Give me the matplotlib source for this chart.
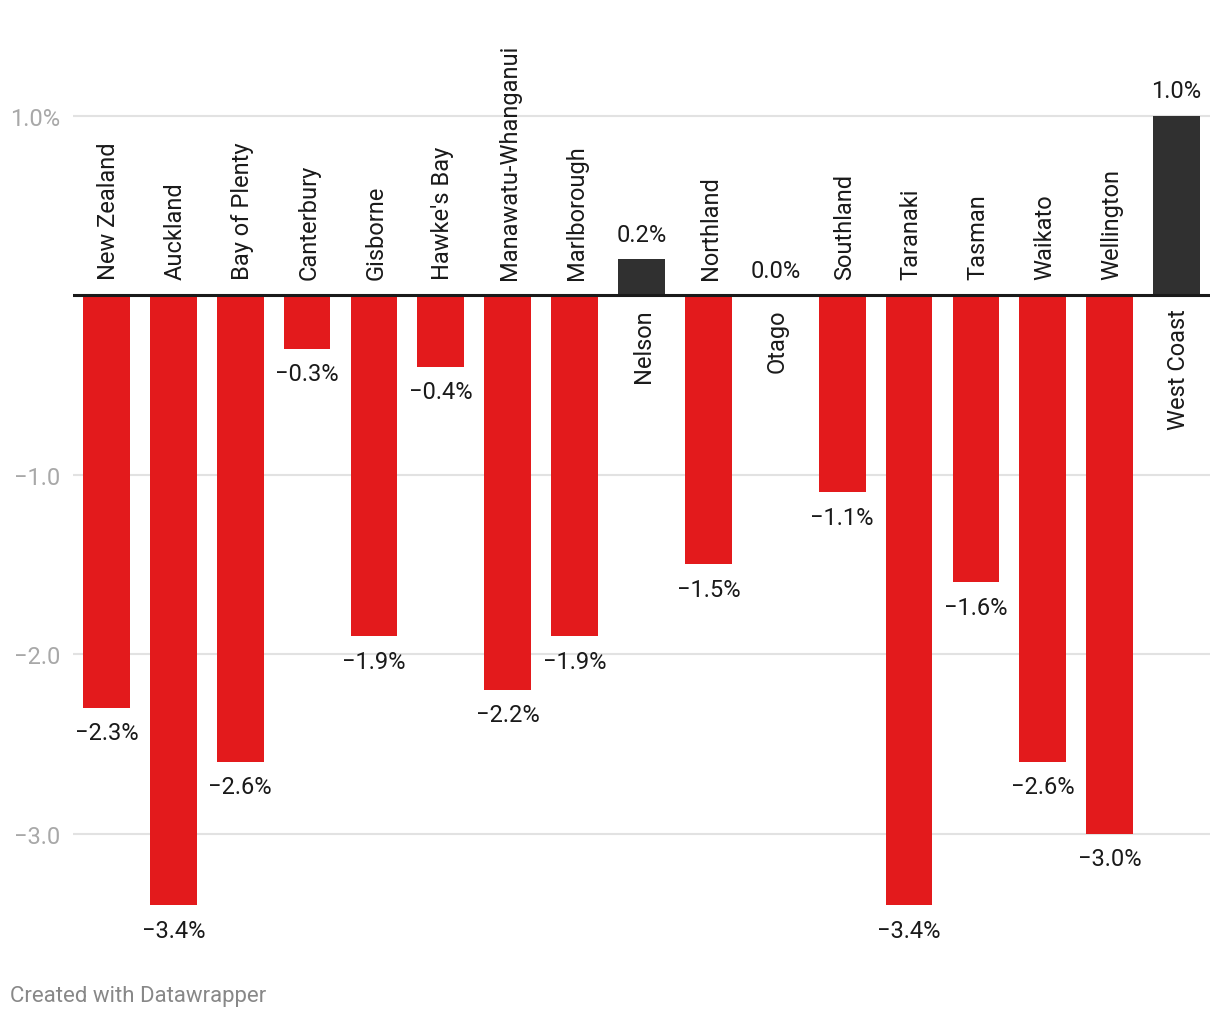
import matplotlib
matplotlib.use("Agg")
import matplotlib.pyplot as plt

plt.rcParams["font.family"] = ["Roboto", "DejaVu Sans"]

# data
regions = ["New Zealand", "Auckland", "Bay of Plenty", "Canterbury", "Gisborne",
           "Hawke's Bay", "Manawatu-Whanganui", "Marlborough", "Nelson",
           "Northland", "Otago", "Southland", "Taranaki", "Tasman", "Waikato",
           "Wellington", "West Coast"]
change = [-2.3, -3.4, -2.6, -0.3, -1.9, -0.4, -2.2, -1.9, 0.2,
          -1.5, 0.0, -1.1, -3.4, -1.6, -2.6, -3.0, 1.0]
yticks = [1.0, -1.0, -2.0, -3.0]
ytick_labels = ["1.0%", "\u22121.0", "\u22122.0", "\u22123.0"]

RED = "#e31a1c"
DARK = "#303030"

fig = plt.figure(figsize=(12.2, 10.2), dpi=100)
ax = fig.add_axes([73 / 1220, 69 / 1020, 1137 / 1220, 910 / 1020])

x = list(range(len(regions)))
colors = [RED if v < 0 else DARK for v in change]
ax.bar(x, change, width=0.7, color=colors, zorder=2)

ax.set_xlim(-0.5, len(regions) - 0.5)
ax.set_ylim(-3.649, 1.421)

for y in yticks:
    ax.axhline(y, color="#e2e2e2", lw=1.5, zorder=0)
ax.axhline(0, color="#1a1a1a", lw=2.2, zorder=3)

ax.set_yticks(yticks)
ax.set_yticklabels(ytick_labels)
ax.tick_params(axis="y", length=0, pad=9, labelsize=17, labelcolor="#a8a8a8")
ax.set_xticks([])
for s in ax.spines.values():
    s.set_visible(False)

for i, (name, v) in enumerate(zip(regions, change)):
    txt = f"{v:.1f}%".replace("-", "\u2212")
    if v < 0:
        ax.annotate(name, (i, 0), xytext=(2, 16), textcoords="offset pixels",
                    rotation=90, ha="center", va="bottom", fontsize=17,
                    color="#1a1a1a")
        ax.annotate(txt, (i, v), xytext=(0, -25), textcoords="offset pixels",
                    ha="center", va="center", fontsize=17, color="#1a1a1a")
    else:
        ax.annotate(name, (i, 0), xytext=(2, -13), textcoords="offset pixels",
                    rotation=90, ha="center", va="top", fontsize=17,
                    color="#1a1a1a")
        ax.annotate(txt, (i, v), xytext=(0, 25), textcoords="offset pixels",
                    ha="center", va="center", fontsize=17, color="#1a1a1a")

fig.text(10 / 1220, 1 - 997 / 1020, "Created with Datawrapper", fontsize=16,
         color="#888888", ha="left", va="center")

fig.savefig("out.png", dpi=100)
